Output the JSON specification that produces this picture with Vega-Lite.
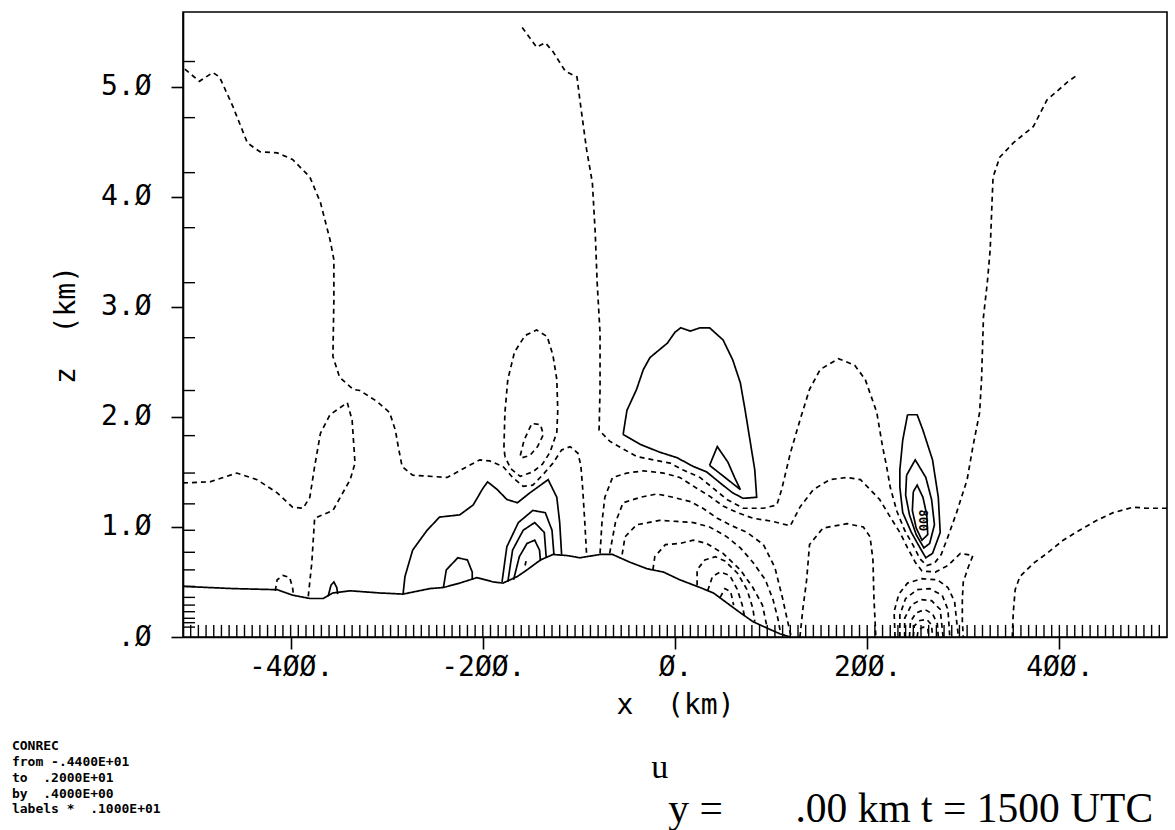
{
  "$schema": "https://vega.github.io/schema/vega-lite/v6.json",
  "width": 984,
  "height": 625,
  "autosize": {"type": "none"},
  "padding": {"left": 183, "top": 12, "right": 8, "bottom": 193},
  "background": "white",
  "config": {
    "view": {"stroke": "black", "strokeWidth": 1.6},
    "axis": {
      "grid": false, "domainColor": "black", "domainWidth": 1.6, "tickColor": "black", "tickWidth": 1.6, "tickSize": 12,
      "labelColor": "black", "titleColor": "black", "labelFont": "DejaVu Sans Mono", "titleFont": "DejaVu Sans Mono",
      "labelFontSize": 28, "titleFontSize": 28, "labelFontWeight": "normal", "titleFontWeight": "normal"
    }
  },
  "datasets": {
    "contours": [
      {"id":"t","sign":"ground","x":-512,"z":0.46},{"id":"t","sign":"ground","x":-460,"z":0.44},{"id":"t","sign":"ground","x":-414,"z":0.43},{"id":"t","sign":"ground","x":-398,"z":0.38},{"id":"t","sign":"ground","x":-380,"z":0.35},{"id":"t","sign":"ground","x":-366,"z":0.35},{"id":"t","sign":"ground","x":-356,"z":0.40},{"id":"t","sign":"ground","x":-338,"z":0.42},{"id":"t","sign":"ground","x":-307,"z":0.40},{"id":"t","sign":"ground","x":-283,"z":0.39},{"id":"t","sign":"ground","x":-255,"z":0.44},{"id":"t","sign":"ground","x":-241,"z":0.45},{"id":"t","sign":"ground","x":-224,"z":0.49},{"id":"t","sign":"ground","x":-206,"z":0.54},{"id":"t","sign":"ground","x":-189,"z":0.50},{"id":"t","sign":"ground","x":-179,"z":0.49},{"id":"t","sign":"ground","x":-164,"z":0.55},{"id":"t","sign":"ground","x":-154,"z":0.61},{"id":"t","sign":"ground","x":-140,"z":0.70},{"id":"t","sign":"ground","x":-127,"z":0.75},{"id":"t","sign":"ground","x":-112,"z":0.74},{"id":"t","sign":"ground","x":-99,"z":0.72},{"id":"t","sign":"ground","x":-78,"z":0.75},{"id":"t","sign":"ground","x":-65,"z":0.75},{"id":"t","sign":"ground","x":-47,"z":0.68},{"id":"t","sign":"ground","x":-29,"z":0.62},{"id":"t","sign":"ground","x":-12,"z":0.59},{"id":"t","sign":"ground","x":5,"z":0.52},{"id":"t","sign":"ground","x":26,"z":0.45},{"id":"t","sign":"ground","x":40,"z":0.40},{"id":"t","sign":"ground","x":54,"z":0.31},{"id":"t","sign":"ground","x":68,"z":0.22},{"id":"t","sign":"ground","x":81,"z":0.14},{"id":"t","sign":"ground","x":96,"z":0.08},{"id":"t","sign":"ground","x":109,"z":0.03},{"id":"t","sign":"ground","x":120,"z":0.0},

      {"id":"sl1","sign":"neg","x":-416,"z":0.42},{"id":"sl1","sign":"neg","x":-414,"z":0.52},{"id":"sl1","sign":"neg","x":-408,"z":0.56},{"id":"sl1","sign":"neg","x":-401,"z":0.54},{"id":"sl1","sign":"neg","x":-398,"z":0.45},{"id":"sl1","sign":"neg","x":-397,"z":0.38},
      {"id":"sl2","sign":"pos","x":-361,"z":0.37},{"id":"sl2","sign":"pos","x":-358,"z":0.47},{"id":"sl2","sign":"pos","x":-355,"z":0.50},{"id":"sl2","sign":"pos","x":-352,"z":0.45},{"id":"sl2","sign":"pos","x":-351,"z":0.39},

      {"id":"c5","sign":"neg","x":-512,"z":1.40},{"id":"c5","sign":"neg","x":-484,"z":1.41},{"id":"c5","sign":"neg","x":-456,"z":1.49},{"id":"c5","sign":"neg","x":-435,"z":1.43},{"id":"c5","sign":"neg","x":-414,"z":1.31},{"id":"c5","sign":"neg","x":-398,"z":1.18},{"id":"c5","sign":"neg","x":-387,"z":1.17},{"id":"c5","sign":"neg","x":-380,"z":1.27},{"id":"c5","sign":"neg","x":-375,"z":1.55},{"id":"c5","sign":"neg","x":-369,"z":1.85},{"id":"c5","sign":"neg","x":-359,"z":2.02},{"id":"c5","sign":"neg","x":-341,"z":2.13},{"id":"c5","sign":"neg","x":-336,"z":1.97},{"id":"c5","sign":"neg","x":-333,"z":1.58},{"id":"c5","sign":"neg","x":-338,"z":1.43},{"id":"c5","sign":"neg","x":-356,"z":1.15},{"id":"c5","sign":"neg","x":-375,"z":1.08},{"id":"c5","sign":"neg","x":-378,"z":0.67},{"id":"c5","sign":"neg","x":-382,"z":0.34},

      {"id":"c1","sign":"neg","x":-510,"z":5.16},{"id":"c1","sign":"neg","x":-495,"z":5.05},{"id":"c1","sign":"neg","x":-481,"z":5.13},{"id":"c1","sign":"neg","x":-474,"z":5.09},{"id":"c1","sign":"neg","x":-460,"z":4.82},{"id":"c1","sign":"neg","x":-445,"z":4.49},{"id":"c1","sign":"neg","x":-432,"z":4.41},{"id":"c1","sign":"neg","x":-414,"z":4.40},{"id":"c1","sign":"neg","x":-398,"z":4.34},{"id":"c1","sign":"neg","x":-380,"z":4.18},{"id":"c1","sign":"neg","x":-369,"z":3.95},{"id":"c1","sign":"neg","x":-359,"z":3.61},{"id":"c1","sign":"neg","x":-355,"z":3.43},{"id":"c1","sign":"neg","x":-355,"z":3.06},{"id":"c1","sign":"neg","x":-356,"z":2.55},{"id":"c1","sign":"neg","x":-349,"z":2.36},{"id":"c1","sign":"neg","x":-335,"z":2.25},{"id":"c1","sign":"neg","x":-328,"z":2.24},{"id":"c1","sign":"neg","x":-310,"z":2.14},{"id":"c1","sign":"neg","x":-297,"z":2.04},{"id":"c1","sign":"neg","x":-291,"z":1.88},{"id":"c1","sign":"neg","x":-288,"z":1.73},{"id":"c1","sign":"neg","x":-284,"z":1.55},{"id":"c1","sign":"neg","x":-273,"z":1.47},{"id":"c1","sign":"neg","x":-237,"z":1.45},{"id":"c1","sign":"neg","x":-216,"z":1.55},{"id":"c1","sign":"neg","x":-203,"z":1.61},{"id":"c1","sign":"neg","x":-193,"z":1.60},{"id":"c1","sign":"neg","x":-179,"z":1.55},{"id":"c1","sign":"neg","x":-169,"z":1.45},{"id":"c1","sign":"neg","x":-158,"z":1.37},{"id":"c1","sign":"neg","x":-148,"z":1.38},{"id":"c1","sign":"neg","x":-137,"z":1.48},{"id":"c1","sign":"neg","x":-127,"z":1.58},{"id":"c1","sign":"neg","x":-118,"z":1.70},{"id":"c1","sign":"neg","x":-109,"z":1.73},{"id":"c1","sign":"neg","x":-101,"z":1.67},{"id":"c1","sign":"neg","x":-98,"z":1.56},{"id":"c1","sign":"neg","x":-96,"z":1.34},{"id":"c1","sign":"neg","x":-94,"z":1.06},{"id":"c1","sign":"neg","x":-92,"z":0.75},

      {"id":"c2","sign":"neg","x":-177,"z":1.64},{"id":"c2","sign":"neg","x":-178,"z":1.73},{"id":"c2","sign":"neg","x":-177,"z":2.04},{"id":"c2","sign":"neg","x":-174,"z":2.34},{"id":"c2","sign":"neg","x":-167,"z":2.59},{"id":"c2","sign":"neg","x":-156,"z":2.74},{"id":"c2","sign":"neg","x":-144,"z":2.79},{"id":"c2","sign":"neg","x":-133,"z":2.73},{"id":"c2","sign":"neg","x":-127,"z":2.56},{"id":"c2","sign":"neg","x":-123,"z":2.34},{"id":"c2","sign":"neg","x":-122,"z":2.06},{"id":"c2","sign":"neg","x":-123,"z":1.86},{"id":"c2","sign":"neg","x":-130,"z":1.68},{"id":"c2","sign":"neg","x":-138,"z":1.57},{"id":"c2","sign":"neg","x":-148,"z":1.50},{"id":"c2","sign":"neg","x":-161,"z":1.46},{"id":"c2","sign":"neg","x":-171,"z":1.53},{"id":"c2","sign":"neg","x":-177,"z":1.64},

      {"id":"c3","sign":"neg","x":-161,"z":1.65},{"id":"c3","sign":"neg","x":-157,"z":1.79},{"id":"c3","sign":"neg","x":-149,"z":1.94},{"id":"c3","sign":"neg","x":-140,"z":1.93},{"id":"c3","sign":"neg","x":-137,"z":1.84},{"id":"c3","sign":"neg","x":-143,"z":1.73},{"id":"c3","sign":"neg","x":-151,"z":1.65},{"id":"c3","sign":"neg","x":-159,"z":1.63},{"id":"c3","sign":"neg","x":-161,"z":1.65},

      {"id":"s2","sign":"pos","x":-283,"z":0.39},{"id":"s2","sign":"pos","x":-281,"z":0.55},{"id":"s2","sign":"pos","x":-273,"z":0.79},{"id":"s2","sign":"pos","x":-258,"z":0.97},{"id":"s2","sign":"pos","x":-245,"z":1.09},{"id":"s2","sign":"pos","x":-224,"z":1.11},{"id":"s2","sign":"pos","x":-210,"z":1.20},{"id":"s2","sign":"pos","x":-200,"z":1.35},{"id":"s2","sign":"pos","x":-195,"z":1.41},{"id":"s2","sign":"pos","x":-185,"z":1.34},{"id":"s2","sign":"pos","x":-175,"z":1.25},{"id":"s2","sign":"pos","x":-164,"z":1.22},{"id":"s2","sign":"pos","x":-151,"z":1.31},{"id":"s2","sign":"pos","x":-132,"z":1.43},{"id":"s2","sign":"pos","x":-123,"z":1.27},{"id":"s2","sign":"pos","x":-120,"z":1.04},{"id":"s2","sign":"pos","x":-118,"z":0.75},

      {"id":"s3","sign":"pos","x":-241,"z":0.45},{"id":"s3","sign":"pos","x":-238,"z":0.61},{"id":"s3","sign":"pos","x":-226,"z":0.72},{"id":"s3","sign":"pos","x":-216,"z":0.70},{"id":"s3","sign":"pos","x":-211,"z":0.59},{"id":"s3","sign":"pos","x":-211,"z":0.52},

      {"id":"s4a","sign":"pos","x":-180,"z":0.50},{"id":"s4a","sign":"pos","x":-175,"z":0.82},{"id":"s4a","sign":"pos","x":-163,"z":1.04},{"id":"s4a","sign":"pos","x":-148,"z":1.15},{"id":"s4a","sign":"pos","x":-135,"z":1.13},{"id":"s4a","sign":"pos","x":-128,"z":0.97},{"id":"s4a","sign":"pos","x":-126,"z":0.75},
      {"id":"s4b","sign":"pos","x":-174,"z":0.50},{"id":"s4b","sign":"pos","x":-169,"z":0.79},{"id":"s4b","sign":"pos","x":-158,"z":0.97},{"id":"s4b","sign":"pos","x":-146,"z":1.04},{"id":"s4b","sign":"pos","x":-136,"z":0.95},{"id":"s4b","sign":"pos","x":-134,"z":0.72},
      {"id":"s4c","sign":"pos","x":-168,"z":0.52},{"id":"s4c","sign":"pos","x":-162,"z":0.73},{"id":"s4c","sign":"pos","x":-154,"z":0.85},{"id":"s4c","sign":"pos","x":-146,"z":0.88},{"id":"s4c","sign":"pos","x":-141,"z":0.79},{"id":"s4c","sign":"pos","x":-140,"z":0.69},
      {"id":"dot","sign":"pos","x":-156,"z":0.65},{"id":"dot","sign":"pos","x":-155,"z":0.69},

      {"id":"s1","sign":"pos","x":-54,"z":1.84},{"id":"s1","sign":"pos","x":-50,"z":2.06},{"id":"s1","sign":"pos","x":-40,"z":2.25},{"id":"s1","sign":"pos","x":-33,"z":2.43},{"id":"s1","sign":"pos","x":-26,"z":2.54},{"id":"s1","sign":"pos","x":-8,"z":2.67},{"id":"s1","sign":"pos","x":0,"z":2.77},{"id":"s1","sign":"pos","x":6,"z":2.81},{"id":"s1","sign":"pos","x":16,"z":2.78},{"id":"s1","sign":"pos","x":26,"z":2.81},{"id":"s1","sign":"pos","x":36,"z":2.81},{"id":"s1","sign":"pos","x":50,"z":2.70},{"id":"s1","sign":"pos","x":60,"z":2.52},{"id":"s1","sign":"pos","x":68,"z":2.31},{"id":"s1","sign":"pos","x":73,"z":2.06},{"id":"s1","sign":"pos","x":78,"z":1.79},{"id":"s1","sign":"pos","x":83,"z":1.52},{"id":"s1","sign":"pos","x":85,"z":1.27},{"id":"s1","sign":"pos","x":71,"z":1.26},{"id":"s1","sign":"pos","x":60,"z":1.31},{"id":"s1","sign":"pos","x":47,"z":1.40},{"id":"s1","sign":"pos","x":33,"z":1.50},{"id":"s1","sign":"pos","x":19,"z":1.55},{"id":"s1","sign":"pos","x":2,"z":1.63},{"id":"s1","sign":"pos","x":-16,"z":1.68},{"id":"s1","sign":"pos","x":-36,"z":1.75},{"id":"s1","sign":"pos","x":-54,"z":1.84},

      {"id":"s1b","sign":"pos","x":36,"z":1.56},{"id":"s1b","sign":"pos","x":44,"z":1.73},{"id":"s1b","sign":"pos","x":55,"z":1.59},{"id":"s1b","sign":"pos","x":62,"z":1.45},{"id":"s1b","sign":"pos","x":68,"z":1.34},{"id":"s1b","sign":"pos","x":36,"z":1.56},

      {"id":"c4","sign":"neg","x":-159,"z":5.54},{"id":"c4","sign":"neg","x":-144,"z":5.36},{"id":"c4","sign":"neg","x":-135,"z":5.40},{"id":"c4","sign":"neg","x":-127,"z":5.32},{"id":"c4","sign":"neg","x":-114,"z":5.14},{"id":"c4","sign":"neg","x":-102,"z":5.09},{"id":"c4","sign":"neg","x":-99,"z":4.88},{"id":"c4","sign":"neg","x":-92,"z":4.43},{"id":"c4","sign":"neg","x":-86,"z":4.13},{"id":"c4","sign":"neg","x":-83,"z":3.67},{"id":"c4","sign":"neg","x":-81,"z":3.22},{"id":"c4","sign":"neg","x":-78,"z":2.76},{"id":"c4","sign":"neg","x":-78,"z":2.25},{"id":"c4","sign":"neg","x":-79,"z":1.88},{"id":"c4","sign":"neg","x":-68,"z":1.78},{"id":"c4","sign":"neg","x":-40,"z":1.64},{"id":"c4","sign":"neg","x":-5,"z":1.58},{"id":"c4","sign":"neg","x":8,"z":1.52},{"id":"c4","sign":"neg","x":26,"z":1.45},{"id":"c4","sign":"neg","x":40,"z":1.35},{"id":"c4","sign":"neg","x":54,"z":1.25},{"id":"c4","sign":"neg","x":71,"z":1.17},{"id":"c4","sign":"neg","x":92,"z":1.17},{"id":"c4","sign":"neg","x":106,"z":1.20},{"id":"c4","sign":"neg","x":111,"z":1.34},{"id":"c4","sign":"neg","x":120,"z":1.67},{"id":"c4","sign":"neg","x":130,"z":1.97},{"id":"c4","sign":"neg","x":140,"z":2.25},{"id":"c4","sign":"neg","x":151,"z":2.43},{"id":"c4","sign":"neg","x":170,"z":2.53},{"id":"c4","sign":"neg","x":187,"z":2.47},{"id":"c4","sign":"neg","x":198,"z":2.34},{"id":"c4","sign":"neg","x":210,"z":2.04},{"id":"c4","sign":"neg","x":216,"z":1.73},{"id":"c4","sign":"neg","x":220,"z":1.56},{"id":"c4","sign":"neg","x":224,"z":1.36},{"id":"c4","sign":"neg","x":231,"z":1.14},{"id":"c4","sign":"neg","x":239,"z":0.97},{"id":"c4","sign":"neg","x":248,"z":0.83},{"id":"c4","sign":"neg","x":255,"z":0.71},{"id":"c4","sign":"neg","x":262,"z":0.65},{"id":"c4","sign":"neg","x":270,"z":0.67},{"id":"c4","sign":"neg","x":277,"z":0.75},{"id":"c4","sign":"neg","x":284,"z":0.91},{"id":"c4","sign":"neg","x":293,"z":1.13},{"id":"c4","sign":"neg","x":304,"z":1.43},{"id":"c4","sign":"neg","x":310,"z":1.73},{"id":"c4","sign":"neg","x":317,"z":2.04},{"id":"c4","sign":"neg","x":319,"z":2.34},{"id":"c4","sign":"neg","x":321,"z":2.91},{"id":"c4","sign":"neg","x":325,"z":3.22},{"id":"c4","sign":"neg","x":328,"z":3.52},{"id":"c4","sign":"neg","x":330,"z":3.97},{"id":"c4","sign":"neg","x":331,"z":4.18},{"id":"c4","sign":"neg","x":338,"z":4.36},{"id":"c4","sign":"neg","x":352,"z":4.49},{"id":"c4","sign":"neg","x":373,"z":4.64},{"id":"c4","sign":"neg","x":387,"z":4.88},{"id":"c4","sign":"neg","x":408,"z":5.04},{"id":"c4","sign":"neg","x":419,"z":5.11},

      {"id":"d2","sign":"neg","x":-78,"z":0.76},{"id":"d2","sign":"neg","x":-76,"z":1.04},{"id":"d2","sign":"neg","x":-73,"z":1.27},{"id":"d2","sign":"neg","x":-65,"z":1.45},{"id":"d2","sign":"neg","x":-50,"z":1.49},{"id":"d2","sign":"neg","x":-33,"z":1.51},{"id":"d2","sign":"neg","x":-12,"z":1.49},{"id":"d2","sign":"neg","x":5,"z":1.45},{"id":"d2","sign":"neg","x":23,"z":1.35},{"id":"d2","sign":"neg","x":36,"z":1.28},{"id":"d2","sign":"neg","x":50,"z":1.19},{"id":"d2","sign":"neg","x":65,"z":1.13},{"id":"d2","sign":"neg","x":81,"z":1.08},{"id":"d2","sign":"neg","x":102,"z":1.05},{"id":"d2","sign":"neg","x":120,"z":1.01},{"id":"d2","sign":"neg","x":130,"z":1.18},{"id":"d2","sign":"neg","x":144,"z":1.34},{"id":"d2","sign":"neg","x":161,"z":1.43},{"id":"d2","sign":"neg","x":179,"z":1.45},{"id":"d2","sign":"neg","x":193,"z":1.43},{"id":"d2","sign":"neg","x":203,"z":1.34},{"id":"d2","sign":"neg","x":213,"z":1.25},{"id":"d2","sign":"neg","x":224,"z":1.09},{"id":"d2","sign":"neg","x":234,"z":0.95},{"id":"d2","sign":"neg","x":242,"z":0.81},{"id":"d2","sign":"neg","x":250,"z":0.68},{"id":"d2","sign":"neg","x":257,"z":0.60},{"id":"d2","sign":"neg","x":271,"z":0.59},{"id":"d2","sign":"neg","x":284,"z":0.65},{"id":"d2","sign":"neg","x":297,"z":0.76},{"id":"d2","sign":"neg","x":310,"z":0.74},{"id":"d2","sign":"neg","x":305,"z":0.63},{"id":"d2","sign":"neg","x":300,"z":0.50},{"id":"d2","sign":"neg","x":299,"z":0.34},{"id":"d2","sign":"neg","x":299,"z":0.15},{"id":"d2","sign":"neg","x":300,"z":0.0},

      {"id":"l610","sign":"neg","x":-68,"z":0.76},{"id":"l610","sign":"neg","x":-62,"z":1.04},{"id":"l610","sign":"neg","x":-54,"z":1.22},{"id":"l610","sign":"neg","x":-36,"z":1.27},{"id":"l610","sign":"neg","x":-19,"z":1.30},{"id":"l610","sign":"neg","x":-2,"z":1.27},{"id":"l610","sign":"neg","x":16,"z":1.23},{"id":"l610","sign":"neg","x":29,"z":1.17},{"id":"l610","sign":"neg","x":44,"z":1.08},{"id":"l610","sign":"neg","x":57,"z":1.02},{"id":"l610","sign":"neg","x":75,"z":0.95},{"id":"l610","sign":"neg","x":92,"z":0.84},{"id":"l610","sign":"neg","x":104,"z":0.63},{"id":"l610","sign":"neg","x":112,"z":0.35},{"id":"l610","sign":"neg","x":117,"z":0.15},{"id":"l610","sign":"neg","x":121,"z":0.0},
      {"id":"l622","sign":"neg","x":-55,"z":0.75},{"id":"l622","sign":"neg","x":-52,"z":0.91},{"id":"l622","sign":"neg","x":-40,"z":1.02},{"id":"l622","sign":"neg","x":-16,"z":1.06},{"id":"l622","sign":"neg","x":2,"z":1.05},{"id":"l622","sign":"neg","x":19,"z":1.04},{"id":"l622","sign":"neg","x":36,"z":1.00},{"id":"l622","sign":"neg","x":54,"z":0.91},{"id":"l622","sign":"neg","x":68,"z":0.81},{"id":"l622","sign":"neg","x":81,"z":0.68},{"id":"l622","sign":"neg","x":94,"z":0.52},{"id":"l622","sign":"neg","x":102,"z":0.34},{"id":"l622","sign":"neg","x":107,"z":0.17},{"id":"l622","sign":"neg","x":110,"z":0.03},
      {"id":"l653","sign":"neg","x":-23,"z":0.61},{"id":"l653","sign":"neg","x":-21,"z":0.73},{"id":"l653","sign":"neg","x":-10,"z":0.84},{"id":"l653","sign":"neg","x":5,"z":0.85},{"id":"l653","sign":"neg","x":19,"z":0.88},{"id":"l653","sign":"neg","x":33,"z":0.85},{"id":"l653","sign":"neg","x":50,"z":0.76},{"id":"l653","sign":"neg","x":68,"z":0.61},{"id":"l653","sign":"neg","x":81,"z":0.45},{"id":"l653","sign":"neg","x":91,"z":0.29},{"id":"l653","sign":"neg","x":96,"z":0.08},
      {"id":"l697","sign":"neg","x":23,"z":0.47},{"id":"l697","sign":"neg","x":23,"z":0.61},{"id":"l697","sign":"neg","x":31,"z":0.70},{"id":"l697","sign":"neg","x":42,"z":0.73},{"id":"l697","sign":"neg","x":52,"z":0.69},{"id":"l697","sign":"neg","x":65,"z":0.58},{"id":"l697","sign":"neg","x":75,"z":0.43},{"id":"l697","sign":"neg","x":81,"z":0.26},{"id":"l697","sign":"neg","x":83,"z":0.14},
      {"id":"l708","sign":"neg","x":34,"z":0.42},{"id":"l708","sign":"neg","x":39,"z":0.55},{"id":"l708","sign":"neg","x":47,"z":0.59},{"id":"l708","sign":"neg","x":57,"z":0.56},{"id":"l708","sign":"neg","x":65,"z":0.43},{"id":"l708","sign":"neg","x":70,"z":0.29},{"id":"l708","sign":"neg","x":72,"z":0.20},
      {"id":"l720","sign":"neg","x":47,"z":0.36},{"id":"l720","sign":"neg","x":52,"z":0.44},{"id":"l720","sign":"neg","x":58,"z":0.41},{"id":"l720","sign":"neg","x":61,"z":0.29},

      {"id":"d3","sign":"neg","x":130,"z":0.0},{"id":"d3","sign":"neg","x":133,"z":0.25},{"id":"d3","sign":"neg","x":137,"z":0.52},{"id":"d3","sign":"neg","x":140,"z":0.84},{"id":"d3","sign":"neg","x":154,"z":0.99},{"id":"d3","sign":"neg","x":179,"z":1.03},{"id":"d3","sign":"neg","x":196,"z":1.00},{"id":"d3","sign":"neg","x":203,"z":0.91},{"id":"d3","sign":"neg","x":206,"z":0.70},{"id":"d3","sign":"neg","x":207,"z":0.36},{"id":"d3","sign":"neg","x":209,"z":0.0},

      {"id":"n0","sign":"neg","x":229,"z":0.0},{"id":"n0","sign":"neg","x":228,"z":0.23},{"id":"n0","sign":"neg","x":233,"z":0.39},{"id":"n0","sign":"neg","x":242,"z":0.49},{"id":"n0","sign":"neg","x":257,"z":0.53},{"id":"n0","sign":"neg","x":273,"z":0.52},{"id":"n0","sign":"neg","x":284,"z":0.45},{"id":"n0","sign":"neg","x":291,"z":0.32},{"id":"n0","sign":"neg","x":293,"z":0.15},{"id":"n0","sign":"neg","x":295,"z":0.0},
      {"id":"n1","sign":"neg","x":234,"z":0.0},{"id":"n1","sign":"neg","x":234,"z":0.20},{"id":"n1","sign":"neg","x":240,"z":0.35},{"id":"n1","sign":"neg","x":252,"z":0.43},{"id":"n1","sign":"neg","x":265,"z":0.44},{"id":"n1","sign":"neg","x":278,"z":0.38},{"id":"n1","sign":"neg","x":284,"z":0.25},{"id":"n1","sign":"neg","x":286,"z":0.0},
      {"id":"n2","sign":"neg","x":239,"z":0.0},{"id":"n2","sign":"neg","x":239,"z":0.17},{"id":"n2","sign":"neg","x":246,"z":0.29},{"id":"n2","sign":"neg","x":256,"z":0.34},{"id":"n2","sign":"neg","x":267,"z":0.33},{"id":"n2","sign":"neg","x":276,"z":0.25},{"id":"n2","sign":"neg","x":279,"z":0.0},
      {"id":"n3","sign":"neg","x":244,"z":0.0},{"id":"n3","sign":"neg","x":245,"z":0.14},{"id":"n3","sign":"neg","x":251,"z":0.22},{"id":"n3","sign":"neg","x":260,"z":0.25},{"id":"n3","sign":"neg","x":268,"z":0.21},{"id":"n3","sign":"neg","x":273,"z":0.12},{"id":"n3","sign":"neg","x":274,"z":0.0},
      {"id":"n4","sign":"neg","x":248,"z":0.0},{"id":"n4","sign":"neg","x":249,"z":0.10},{"id":"n4","sign":"neg","x":255,"z":0.15},{"id":"n4","sign":"neg","x":262,"z":0.16},{"id":"n4","sign":"neg","x":267,"z":0.11},{"id":"n4","sign":"neg","x":268,"z":0.0},
      {"id":"n5","sign":"neg","x":252,"z":0.0},{"id":"n5","sign":"neg","x":253,"z":0.06},{"id":"n5","sign":"neg","x":258,"z":0.09},{"id":"n5","sign":"neg","x":263,"z":0.08},{"id":"n5","sign":"neg","x":264,"z":0.0},

      {"id":"c7","sign":"neg","x":512,"z":1.17},{"id":"c7","sign":"neg","x":491,"z":1.17},{"id":"c7","sign":"neg","x":477,"z":1.18},{"id":"c7","sign":"neg","x":456,"z":1.13},{"id":"c7","sign":"neg","x":439,"z":1.06},{"id":"c7","sign":"neg","x":421,"z":0.97},{"id":"c7","sign":"neg","x":404,"z":0.88},{"id":"c7","sign":"neg","x":387,"z":0.76},{"id":"c7","sign":"neg","x":373,"z":0.67},{"id":"c7","sign":"neg","x":359,"z":0.55},{"id":"c7","sign":"neg","x":354,"z":0.43},{"id":"c7","sign":"neg","x":352,"z":0.22},{"id":"c7","sign":"neg","x":351,"z":0.0},

      {"id":"s5","sign":"pos","x":242,"z":2.02},{"id":"s5","sign":"pos","x":237,"z":1.79},{"id":"s5","sign":"pos","x":234,"z":1.52},{"id":"s5","sign":"pos","x":234,"z":1.36},{"id":"s5","sign":"pos","x":237,"z":1.13},{"id":"s5","sign":"pos","x":246,"z":0.95},{"id":"s5","sign":"pos","x":255,"z":0.81},{"id":"s5","sign":"pos","x":261,"z":0.72},{"id":"s5","sign":"pos","x":268,"z":0.76},{"id":"s5","sign":"pos","x":276,"z":0.95},{"id":"s5","sign":"pos","x":274,"z":1.27},{"id":"s5","sign":"pos","x":268,"z":1.61},{"id":"s5","sign":"pos","x":258,"z":1.88},{"id":"s5","sign":"pos","x":252,"z":2.02},{"id":"s5","sign":"pos","x":242,"z":2.02},
      {"id":"s6","sign":"pos","x":241,"z":1.47},{"id":"s6","sign":"pos","x":250,"z":1.61},{"id":"s6","sign":"pos","x":261,"z":1.45},{"id":"s6","sign":"pos","x":267,"z":1.25},{"id":"s6","sign":"pos","x":270,"z":1.02},{"id":"s6","sign":"pos","x":265,"z":0.85},{"id":"s6","sign":"pos","x":259,"z":0.81},{"id":"s6","sign":"pos","x":251,"z":0.93},{"id":"s6","sign":"pos","x":244,"z":1.11},{"id":"s6","sign":"pos","x":240,"z":1.29},{"id":"s6","sign":"pos","x":241,"z":1.47},
      {"id":"s7","sign":"pos","x":248,"z":1.32},{"id":"s7","sign":"pos","x":252,"z":1.38},{"id":"s7","sign":"pos","x":258,"z":1.27},{"id":"s7","sign":"pos","x":262,"z":1.11},{"id":"s7","sign":"pos","x":263,"z":0.93},{"id":"s7","sign":"pos","x":257,"z":0.88},{"id":"s7","sign":"pos","x":251,"z":0.99},{"id":"s7","sign":"pos","x":247,"z":1.15},{"id":"s7","sign":"pos","x":248,"z":1.32}
    ],
    "xgrid": [
      {"gx":-504},{"gx":-496},{"gx":-488},{"gx":-480},{"gx":-472},{"gx":-464},{"gx":-456},{"gx":-448},{"gx":-440},{"gx":-432},{"gx":-424},{"gx":-416},{"gx":-408},{"gx":-400},{"gx":-392},{"gx":-384},{"gx":-376},{"gx":-368},{"gx":-360},{"gx":-352},{"gx":-344},{"gx":-336},{"gx":-328},{"gx":-320},{"gx":-312},{"gx":-304},{"gx":-296},{"gx":-288},{"gx":-280},{"gx":-272},{"gx":-264},{"gx":-256},{"gx":-248},{"gx":-240},{"gx":-232},{"gx":-224},{"gx":-216},{"gx":-208},{"gx":-200},{"gx":-192},{"gx":-184},{"gx":-176},{"gx":-168},{"gx":-160},{"gx":-152},{"gx":-144},{"gx":-136},{"gx":-128},{"gx":-120},{"gx":-112},{"gx":-104},{"gx":-96},{"gx":-88},{"gx":-80},{"gx":-72},{"gx":-64},{"gx":-56},{"gx":-48},{"gx":-40},{"gx":-32},{"gx":-24},{"gx":-16},{"gx":-8},{"gx":0},{"gx":8},{"gx":16},{"gx":24},{"gx":32},{"gx":40},{"gx":48},{"gx":56},{"gx":64},{"gx":72},{"gx":80},{"gx":88},{"gx":96},{"gx":104},{"gx":112},{"gx":120},{"gx":128},{"gx":136},{"gx":144},{"gx":152},{"gx":160},{"gx":168},{"gx":176},{"gx":184},{"gx":192},{"gx":200},{"gx":208},{"gx":216},{"gx":224},{"gx":232},{"gx":240},{"gx":248},{"gx":256},{"gx":264},{"gx":272},{"gx":280},{"gx":288},{"gx":296},{"gx":304},{"gx":312},{"gx":320},{"gx":328},{"gx":336},{"gx":344},{"gx":352},{"gx":360},{"gx":368},{"gx":376},{"gx":384},{"gx":392},{"gx":400},{"gx":408},{"gx":416},{"gx":424},{"gx":432},{"gx":440},{"gx":448},{"gx":456},{"gx":464},{"gx":472},{"gx":480},{"gx":488},{"gx":496},{"gx":504}
    ],
    "zgrid": [
      {"gz":5.23},{"gz":4.72},{"gz":4.22},{"gz":3.72},{"gz":3.22},{"gz":2.72},{"gz":2.24},{"gz":1.83},{"gz":1.49},{"gz":1.21},{"gz":0.97},{"gz":0.77},{"gz":0.61},{"gz":0.46},{"gz":0.36},{"gz":0.29},{"gz":0.23},{"gz":0.17},{"gz":0.13},{"gz":0.09}
    ],
    "notes": [{"n": 1}]
  },
  "layer": [
    {
      "data": {"name": "contours"},
      "mark": {"type": "line", "color": "black", "strokeWidth": 1.7},
      "encoding": {
        "x": {
          "field": "x", "type": "quantitative",
          "scale": {"domain": [-512, 512], "nice": false, "zero": false},
          "axis": {"values": [-400, -200, 0, 200, 400], "labelExpr": "replace(datum.value + '', regexp('0', 'g'), 'Ø') + '.'", "labelPadding": 4, "title": "x\u00a0\u00a0(km)", "titlePadding": 10}
        },
        "y": {
          "field": "z", "type": "quantitative",
          "scale": {"domain": [0, 5.68], "nice": false, "zero": false},
          "axis": {"values": [0, 1, 2, 3, 4, 5], "labelExpr": "datum.value == 0 ? '.Ø' : datum.value + '.Ø'", "labelPadding": 20, "title": "z\u00a0\u00a0(km)", "titlePadding": 20}
        },
        "detail": {"field": "id", "type": "nominal"},
        "strokeDash": {"field": "sign", "type": "nominal", "scale": {"domain": ["ground", "pos", "neg"], "range": [[1, 0], [1, 0], [5, 4]]}, "legend": null},
        "order": {"value": null}
      }
    },
    {
      "data": {"name": "xgrid"},
      "mark": {"type": "rule", "color": "black", "strokeWidth": 1.4},
      "encoding": {
        "x": {"field": "gx", "type": "quantitative"},
        "y": {"datum": 0, "type": "quantitative"},
        "y2": {"datum": 0.11}
      }
    },
    {
      "data": {"name": "zgrid"},
      "mark": {"type": "rule", "color": "black", "strokeWidth": 1.4},
      "encoding": {
        "y": {"field": "gz", "type": "quantitative"},
        "x": {"datum": -512, "type": "quantitative"},
        "x2": {"datum": -499.5}
      }
    },
    {
      "data": {"name": "notes"},
      "mark": {"type": "text", "text": "800", "angle": 90, "font": "DejaVu Sans Mono", "fontWeight": "bold", "fontSize": 12, "align": "center", "baseline": "middle", "color": "black"},
      "encoding": {"x": {"datum": 258, "type": "quantitative"}, "y": {"datum": 1.06, "type": "quantitative"}}
    },
    {
      "data": {"name": "notes"},
      "mark": {"type": "text", "text": ["CONREC", "from -.4400E+01", "to\u00a0\u00a0.2000E+01", "by\u00a0\u00a0.4000E+00", "labels *\u00a0\u00a0.1000E+01"], "font": "DejaVu Sans Mono", "fontWeight": "bold", "fontSize": 13, "lineHeight": 15.7, "align": "left", "baseline": "top", "color": "black"},
      "encoding": {"x": {"datum": -690, "type": "quantitative"}, "y": {"datum": -0.94, "type": "quantitative"}}
    },
    {
      "data": {"name": "notes"},
      "mark": {"type": "text", "text": "u", "font": "Liberation Serif", "fontSize": 34, "align": "center", "baseline": "alphabetic", "color": "black"},
      "encoding": {"x": {"datum": -16, "type": "quantitative"}, "y": {"datum": -1.28, "type": "quantitative"}}
    },
    {
      "data": {"name": "notes"},
      "mark": {"type": "text", "text": "y =\u00a0\u00a0\u00a0\u00a0\u00a0\u00a0\u00a0.00 km t = 1500 UTC", "font": "Liberation Serif", "fontSize": 41.5, "align": "left", "baseline": "alphabetic", "color": "black"},
      "encoding": {"x": {"datum": -7, "type": "quantitative"}, "y": {"datum": -1.68, "type": "quantitative"}}
    }
  ]
}
